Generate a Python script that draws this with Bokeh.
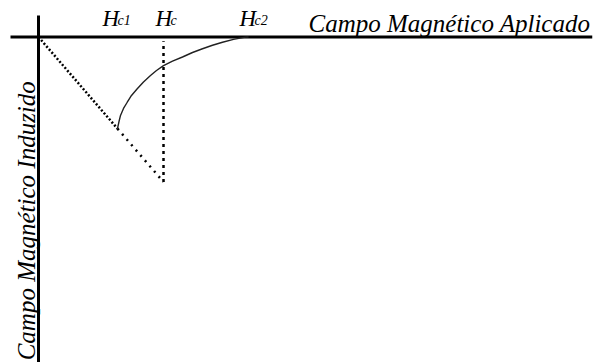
import math

from bokeh.core.properties import value
from bokeh.embed import file_html
from bokeh.models import Range1d
from bokeh.plotting import figure
from bokeh.resources import INLINE

# Critical fields (in units of Hc)
H_c1 = 0.632
H_c = 1.0
H_c2 = 1.68

# Meissner state: M = -H up to Hc1, continued (dotted) to Hc
meissner_H = [0.0, H_c1]
meissner_M = [0.0, -H_c1]
ideal_H = [H_c1, H_c]
ideal_M = [-H_c1, -H_c]

# Mixed (vortex) state, from Hc1 back to zero magnetisation at Hc2
mixed_H = [0.632, 0.644, 0.656, 0.680, 0.710, 0.744, 0.790, 0.840, 0.896, 0.944,
           1.000, 1.072, 1.152, 1.232, 1.312, 1.392, 1.472, 1.560, 1.656, 1.680]
mixed_M = [-0.631, -0.583, -0.541, -0.493, -0.450, -0.403, -0.357, -0.310, -0.266, -0.231,
           -0.197, -0.166, -0.138, -0.107, -0.081, -0.057, -0.036, -0.016, -0.001, 0.0]

# Type-I drop at Hc
drop_H = [H_c, H_c]
drop_M = [-H_c, -0.03]

field_names = ["H", "H", "H"]
field_subs = ["c1", "c", "c2"]
field_pos = [H_c1, H_c, H_c2]

x_title = "Campo Magnético Aplicado"
y_title = "Campo Magnético Induzido"

FONT = value("Liberation Serif")
INK = "#000000"

p = figure(
    width=599,
    height=362,
    x_range=Range1d(-0.304, 4.488),
    y_range=Range1d(-2.245, 0.2517),
    x_axis_type=None,
    y_axis_type=None,
    min_border=0,
    output_backend="svg",
    toolbar_location=None,
)
p.grid.visible = False
p.outline_line_color = None
p.background_fill_color = "white"
p.border_fill_color = "white"

# Hand-drawn axes
p.segment(x0=[-0.224], y0=[0.0], x1=[4.43], y1=[0.0], line_color=INK, line_width=3)
p.segment(x0=[0.0], y0=[0.148], x1=[0.0], y1=[-2.3], line_color=INK, line_width=3)

# Curves
p.line(meissner_H, meissner_M, line_color=INK, line_width=2.5, line_dash="2 2")
p.line(ideal_H, ideal_M, line_color=INK, line_width=2.5, line_dash="2 5")
p.line(drop_H, drop_M, line_color=INK, line_width=2.5, line_dash="3 4")
p.line(mixed_H, mixed_M, line_color="#222222", line_width=1.4)

# Field labels H with subscripts, set just above the field axis
label_dx = [-0.12, -0.064, -0.072]
h_x = [h + d for h, d in zip(field_pos, label_dx)]
sub_x = [x + 0.12 for x in h_x]
p.text(
    x=h_x, y=[0.125] * 3, text=field_names,
    text_font=FONT, text_font_style="italic", text_font_size="23px",
    text_color=INK, text_align="left", text_baseline="alphabetic",
)
p.text(
    x=sub_x, y=[0.113] * 3, text=field_subs,
    text_font=FONT, text_font_style="italic", text_font_size="14px",
    text_color=INK, text_align="left", text_baseline="alphabetic",
)

# Axis titles
p.text(
    x=[2.16], y=[0.093], text=[x_title],
    text_font=FONT, text_font_style="italic", text_font_size="25px",
    text_color=INK, text_align="left", text_baseline="alphabetic",
)
p.text(
    x=[-0.096], y=[-2.23], text=[y_title], angle=math.pi / 2,
    text_font=FONT, text_font_style="italic", text_font_size="25px",
    text_color=INK, text_align="left", text_baseline="alphabetic",
)

open("out.html", "w").write(file_html(p, INLINE))
